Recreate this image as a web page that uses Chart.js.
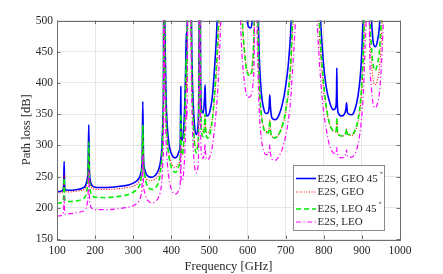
<!DOCTYPE html>
<html>
<head>
<meta charset="utf-8">
<script src="https://cdn.jsdelivr.net/npm/chart.js@4.4.0/dist/chart.umd.min.js"></script>
<style>
  html, body { margin: 0; padding: 0; background: #fff; }
  #wrap { width: 443px; height: 274px; }
</style>
</head>
<body>
<div id="wrap"><canvas id="chart" width="443" height="274"></canvas></div>
<script>
// frequency grid [GHz]
const freq = [100, 110, 115, 117.5, 118.75, 120, 122, 135, 150, 165, 175, 179, 181.5, 183.3, 185, 187.5, 192, 200, 230, 260, 290, 305, 315, 320, 323.5, 325.15, 327, 330, 335, 342, 350, 358, 366, 371, 375, 378, 379.5, 380.2, 381.5, 383.5, 386, 390, 395, 402, 410, 416, 420, 423.5, 424.8, 426, 429, 432, 435, 437.5, 439.2, 440.5, 442, 443, 445, 448, 451, 454, 458, 462, 466, 469, 472, 474.7, 477, 480, 484, 487, 488.5, 490, 494, 500, 507, 513, 518, 523, 528, 535, 557, 575, 585, 592, 600, 607, 613, 617, 620.7, 625, 630, 636, 642, 648, 654, 657, 658.3, 660, 664, 672, 682, 692, 700, 707, 713, 718, 725, 735, 752, 770, 782, 790, 798, 806, 815, 825, 831, 833.5, 834.15, 835, 838, 847, 854, 858, 859.9, 862, 873, 882, 890, 897, 903, 908, 913, 916.2, 920, 925, 930, 935, 940, 947, 953, 960, 975, 1000];

// path loss [dB]
const geo45 = [225.5, 226.5, 228, 238, 274, 236, 229, 228, 229, 231, 236, 245, 262, 333, 262, 243, 236, 233, 232.5, 234, 237, 241, 247, 256, 280, 370, 280, 262, 253, 249.5, 249, 252, 260, 272, 295, 345, 420, 700, 600, 470, 380, 325, 298, 284, 280, 283, 290, 305, 394, 310, 308, 325, 360, 420, 480, 445, 520, 650, 640, 800, 600, 440, 360, 325, 317, 325, 380, 700, 400, 355, 352, 375, 397, 365, 347, 352, 375, 420, 470, 540, 640, 800, 1000, 800, 620, 540, 495, 488, 505, 560, 700, 600, 455, 385, 360, 351, 352, 365, 381, 362, 344, 341, 348, 368, 395, 430, 480, 560, 650, 800, 1000, 800, 650, 520, 440, 395, 370, 357, 360, 385, 424, 380, 352, 347, 350, 358, 368, 352, 349, 358, 380, 420, 500, 620, 800, 1000, 600, 505, 464, 458, 465, 500, 600, 800, 1000, 900];
const geo = [223, 224, 225.5, 232, 256, 231, 226, 225.5, 226.5, 228, 232, 240, 253, 288, 253, 237, 232, 229.5, 229.5, 230.5, 233, 236, 241, 248, 265, 315, 265, 252, 246, 244, 244, 246.5, 252, 262, 278, 315, 370, 650, 540, 420, 345, 305, 282, 269, 265, 267, 272, 283, 335, 287, 286, 298, 325, 370, 410, 385, 450, 560, 560, 700, 530, 400, 330, 302, 296, 302, 345, 600, 360, 325, 322, 335, 348, 330, 320, 324, 340, 372, 410, 460, 540, 700, 900, 700, 510, 450, 418, 415, 430, 480, 650, 540, 405, 350, 330, 322, 322, 330, 341, 325, 314, 312, 318, 332, 352, 380, 420, 480, 560, 700, 900, 700, 560, 460, 400, 360, 335, 323, 322, 330, 340, 328, 318, 315, 316, 321, 326, 318, 316, 322, 338, 368, 425, 520, 700, 900, 520, 435, 403, 397, 403, 430, 500, 700, 900, 800];
const leo45 = [207, 208, 209.5, 219, 248, 217, 211, 210, 211, 213.5, 219, 230, 250, 305, 250, 227, 220, 217, 216.5, 218, 222, 227, 234, 245, 275, 333, 275, 253, 238, 231, 229.5, 232, 240, 255, 280, 330, 400, 680, 570, 440, 355, 305, 277, 262, 257, 260, 267, 282, 350, 288, 285, 302, 338, 395, 440, 410, 480, 600, 600, 740, 560, 410, 330, 296, 288, 296, 350, 640, 370, 318, 314, 333, 350, 326, 312, 316, 338, 380, 425, 485, 580, 740, 950, 740, 520, 450, 415, 412, 430, 490, 680, 560, 415, 350, 328, 320, 320, 328, 340, 325, 314, 312, 318, 333, 356, 388, 430, 500, 600, 740, 950, 740, 600, 480, 410, 365, 335, 323, 322, 332, 345, 330, 318, 315, 316, 321, 326, 318, 317, 324, 342, 375, 440, 560, 740, 950, 550, 460, 427, 420, 428, 460, 540, 740, 950, 850];
const leo = [186.5, 187.5, 189, 196, 218, 195, 190, 190.5, 192, 194, 198, 206, 220, 258, 220, 204, 199, 197, 197, 198.5, 201.5, 205, 211, 219, 237, 285, 237, 225, 215, 209.5, 208, 210, 216, 225, 242, 275, 320, 600, 490, 380, 310, 268, 242, 227, 222, 224, 229, 240, 298, 244, 243, 255, 282, 325, 365, 342, 395, 500, 510, 640, 490, 360, 290, 262, 256, 262, 305, 540, 320, 282, 279, 292, 302, 288, 277, 280, 296, 325, 357, 400, 470, 600, 800, 600, 450, 400, 377, 378, 392, 430, 600, 480, 365, 312, 292, 285, 285, 292, 301, 288, 278, 276, 282, 296, 315, 340, 372, 420, 490, 600, 800, 620, 500, 420, 362, 328, 300, 288, 287, 292, 297, 290, 283, 280, 281, 287, 293, 283, 281, 287, 302, 330, 375, 450, 560, 800, 470, 392, 365, 360, 365, 390, 450, 560, 800, 700];

const seriesNames = ['E2S, GEO 45', 'E2S, GEO', 'E2S, LEO 45', 'E2S, LEO'];
const seriesDeg = [true, false, true, false];
const xTicks = [100, 200, 300, 400, 500, 600, 700, 800, 900, 1000];
const yTicks = [150, 200, 250, 300, 350, 400, 450, 500];

const styles = [
  { color: '#0000ff', width: 1.6, dash: [] },
  { color: '#ff0000', width: 1.1, dash: [1, 1.6] },
  { color: '#00ee00', width: 1.6, dash: [5, 3] },
  { color: '#ff00ff', width: 1.2, dash: [5, 2.5, 1.2, 2.5] }
];

function pts(vals) {
  return freq.map((f, i) => ({ x: f, y: vals[i] }));
}

const allSeries = [geo45, geo, leo45, leo];

const datasets = allSeries.map((vals, i) => ({
  label: seriesNames[i],
  data: pts(vals),
  borderColor: styles[i].color,
  borderWidth: styles[i].width,
  borderDash: styles[i].dash,
  pointRadius: 0,
  fill: false,
  cubicInterpolationMode: 'monotone',
  clip: 0,
  order: 4 - i
}));

const serif = '"Liberation Serif", "Times New Roman", serif';

// box, inward ticks and legend, matlab style
const framePlugin = {
  id: 'frame',
  afterDraw(chart) {
    const ctx = chart.ctx;
    const a = chart.chartArea;
    const xs = chart.scales.x, ys = chart.scales.y;
    ctx.save();
    ctx.strokeStyle = '#6f6f6f';
    ctx.lineWidth = 1;
    ctx.setLineDash([]);
    ctx.strokeRect(Math.round(a.left) + 0.5, Math.round(a.top) + 0.5,
      Math.round(a.right - a.left), Math.round(a.bottom - a.top));
    const tl = 3.5;
    ctx.beginPath();
    xTicks.forEach(t => {
      const px = Math.round(xs.getPixelForValue(t)) + 0.5;
      ctx.moveTo(px, a.bottom); ctx.lineTo(px, a.bottom - tl);
      ctx.moveTo(px, a.top); ctx.lineTo(px, a.top + tl);
    });
    yTicks.forEach(t => {
      const py = Math.round(ys.getPixelForValue(t)) + 0.5;
      ctx.moveTo(a.left, py); ctx.lineTo(a.left + tl, py);
      ctx.moveTo(a.right, py); ctx.lineTo(a.right - tl, py);
    });
    ctx.stroke();

    // legend
    const lx = 293, ly = 165, lw = 91, lh = 65;
    ctx.fillStyle = '#ffffff';
    ctx.fillRect(lx, ly, lw, lh);
    ctx.strokeStyle = '#8a8a8a';
    ctx.strokeRect(lx + 0.5, ly + 0.5, lw, lh);
    const rows = [178.5, 192, 209, 222];
    ctx.textBaseline = 'middle';
    ctx.textAlign = 'left';
    rows.forEach((ry, i) => {
      const st = styles[i];
      ctx.strokeStyle = st.color;
      ctx.lineWidth = st.width;
      ctx.setLineDash(st.dash);
      ctx.beginPath();
      ctx.moveTo(296, ry);
      ctx.lineTo(316, ry);
      ctx.stroke();
      ctx.setLineDash([]);
      ctx.fillStyle = '#262626';
      ctx.font = '11px ' + serif;
      ctx.fillText(seriesNames[i], 317.5, ry + 0.5);
      if (seriesDeg[i]) {
        const w = ctx.measureText(seriesNames[i]).width;
        ctx.font = '7px "DejaVu Sans", sans-serif';
        ctx.fillText('\u2218', 317.5 + w + 1.5, ry - 5.5);
      }
    });
    ctx.restore();
  }
};

new Chart(document.getElementById('chart'), {
  type: 'line',
  data: { datasets: datasets },
  options: {
    responsive: false,
    animation: false,
    devicePixelRatio: 1,
    layout: { padding: { left: 0, right: 43, top: 20.5, bottom: 0 } },
    plugins: {
      legend: { display: false },
      tooltip: { enabled: false }
    },
    scales: {
      x: {
        type: 'linear',
        min: 100,
        max: 1000,
        afterFit(scale) { scale.height = 35; },
        afterBuildTicks(scale) { scale.ticks = xTicks.map(v => ({ value: v })); },
        grid: { color: '#e6e6e6', lineWidth: 1, drawTicks: false },
        border: { display: false },
        ticks: {
          padding: 5,
          color: '#262626',
          maxRotation: 0,
          callback: v => String(v),
          font: { family: serif, size: 11.5 }
        },
        title: {
          display: true,
          text: 'Frequency [GHz]',
          color: '#262626',
          padding: { top: 0, bottom: 0 },
          font: { family: serif, size: 12.5 }
        }
      },
      y: {
        type: 'linear',
        min: 150,
        max: 500,
        afterFit(scale) { scale.width = 57; },
        afterBuildTicks(scale) { scale.ticks = yTicks.map(v => ({ value: v })); },
        grid: { color: '#e6e6e6', lineWidth: 1, drawTicks: false },
        border: { display: false },
        ticks: {
          padding: 4,
          color: '#262626',
          callback: v => String(v),
          font: { family: serif, size: 11.5 }
        },
        title: {
          display: true,
          text: 'Path loss [dB]',
          color: '#262626',
          padding: { top: 19, bottom: 0 },
          font: { family: serif, size: 12.5 }
        }
      }
    }
  },
  plugins: [framePlugin]
});
</script>
</body>
</html>
